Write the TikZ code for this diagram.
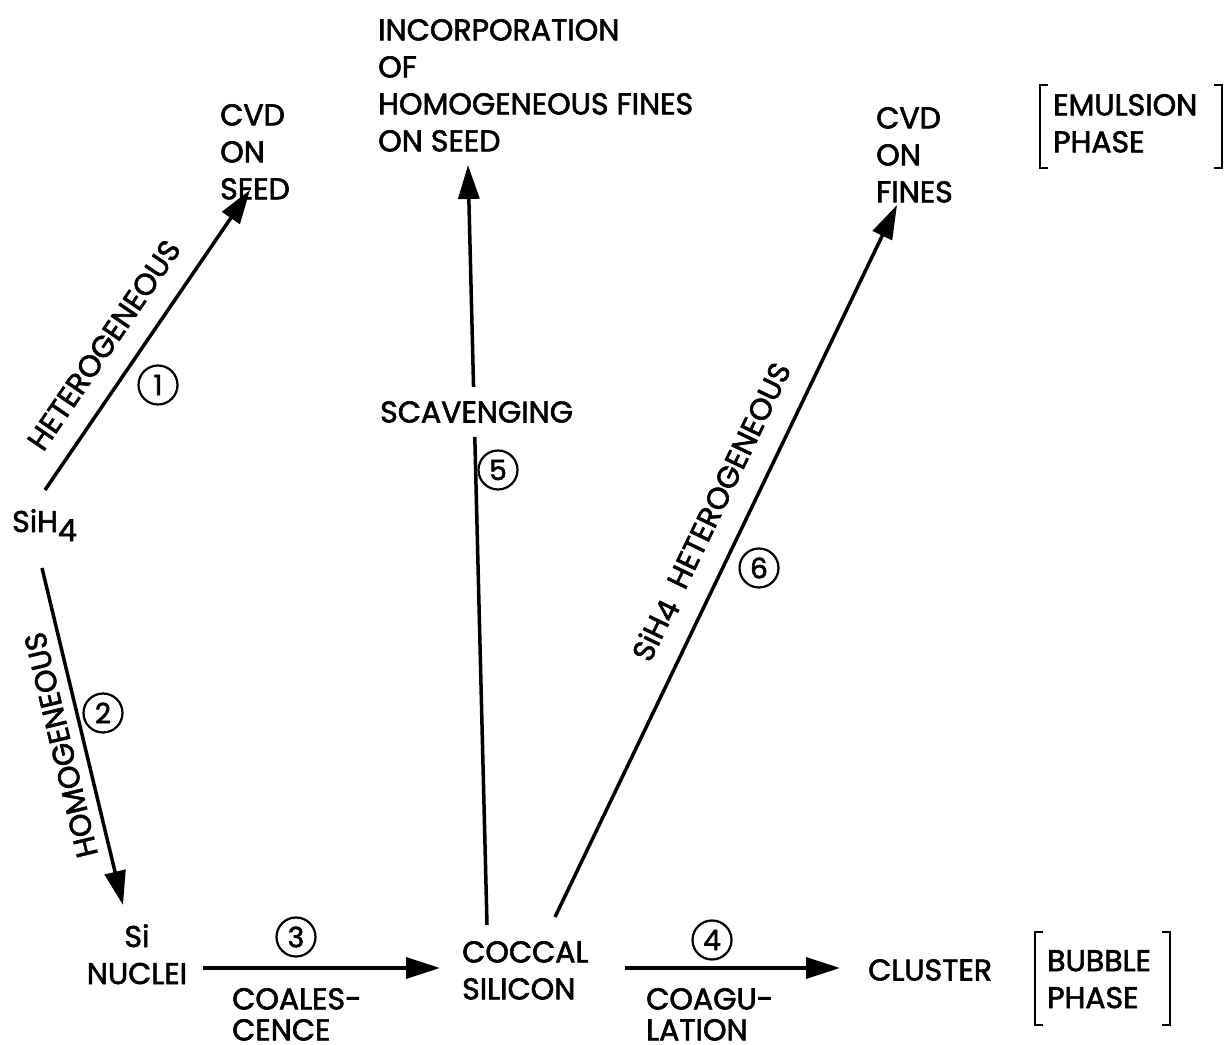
\documentclass[tikz,border=0pt]{standalone}
\usepackage{fontspec}
\setmainfont{Poppins}[FakeBold=2]
\usetikzlibrary{arrows.meta}
\begin{document}
\begin{tikzpicture}[x=1pt,y=1pt,
  lbl/.style={inner sep=0pt, font=\fontsize{30}{37}\selectfont, align=left},
  lblc/.style={inner sep=0pt, font=\fontsize{30}{37}\selectfont, align=center},
  tight/.style={font=\fontsize{30}{31}\selectfont},
  conn/.style={line width=3.5pt, -{Triangle[length=34pt,width=21pt]}},
  num/.style={circle, draw, line width=2.2pt, minimum size=39pt, inner sep=0pt, font=\fontsize{28}{28}\selectfont},
  brk/.style={line width=2.2pt}]
\useasboundingbox (0,0) rectangle (1231,1044);
% arrow end points
\coordinate (a1s) at (45,554);  \coordinate (a1e) at (250,854);
\coordinate (a2s) at (42,476);  \coordinate (a2e) at (123,139);
\coordinate (a3s) at (203,76);  \coordinate (a3e) at (440,76);
\coordinate (a4s) at (625,76);  \coordinate (a4e) at (840,76);
\coordinate (a5s) at (487,119); \coordinate (a5e) at (468,879);
\coordinate (a6s) at (555,127); \coordinate (a6e) at (897,839);
\draw[conn] (a1s) -- (a1e);
\draw[conn] (a2s) -- (a2e);
\draw[conn] (a3s) -- (a3e);
\draw[conn] (a4s) -- (a4e);
\draw[conn] (a5s) -- (a5e);
\draw[conn] (a6s) -- (a6e);
% text nodes
\node[lbl, anchor=north west] (cvdseed) at (220,940) {CVD\\ON\\SEED};
\node[lbl, anchor=north west] (incorp) at (378,1025) {INCORPORATION\\OF\\HOMOGENEOUS FINES\\ON SEED};
\node[lbl, anchor=north west] (cvdfines) at (876,937) {CVD\\ON\\FINES};
\node[lbl, anchor=north west] (emul) at (1053,950) {EMULSION\\PHASE};
\node[lbl, anchor=north west] (sih4) at (12,535) {SiH\raisebox{-9pt}{4}};
\node[lblc, anchor=north] (nuclei) at (137,120) {Si\\NUCLEI};
\node[lbl, tight, anchor=north west] (coal) at (232,56) {COALES-\\CENCE};
\node[lbl, anchor=north west] (coccal) at (462,103) {COCCAL\\SILICON};
\node[lbl, tight, anchor=north west] (coag) at (646,56) {COAGU-\\LATION};
\node[lbl, anchor=west] (cluster) at (868,74) {CLUSTER};
\node[lbl, anchor=north west] (bubble) at (1047,94) {BUBBLE\\PHASE};
\node[lbl, anchor=west, fill=white, inner ysep=14pt, inner xsep=0pt] (scav) at (380,632) {SCAVENGING};
% rotated labels
\node[lbl, rotate=55.7] (het) at (104,699) {HETEROGENEOUS};
\node[lbl, rotate=103.5] (hom) at (61,299) {HOMOGENEOUS};
\node[lbl, rotate=64.3] (het6) at (712,532) {SiH\raisebox{-3pt}{4}\ \ HETEROGENEOUS};
% circled numbers
\node[num] (n1) at (158,659) {1};
\node[num] (n2) at (103,331) {2};
\node[num] (n3) at (296,107) {3};
\node[num] (n4) at (712,104) {4};
\node[num] (n5) at (498,574) {5};
\node[num] (n6) at (759,476) {6};
% brackets
\draw[brk] (1048,959) -- (1040,959) -- (1040,876) -- (1048,876);
\draw[brk] (1214,959) -- (1222,959) -- (1222,876) -- (1214,876);
\draw[brk] (1043,112) -- (1035,112) -- (1035,19) -- (1043,19);
\draw[brk] (1162,112) -- (1170,112) -- (1170,19) -- (1162,19);
\end{tikzpicture}
\end{document}
